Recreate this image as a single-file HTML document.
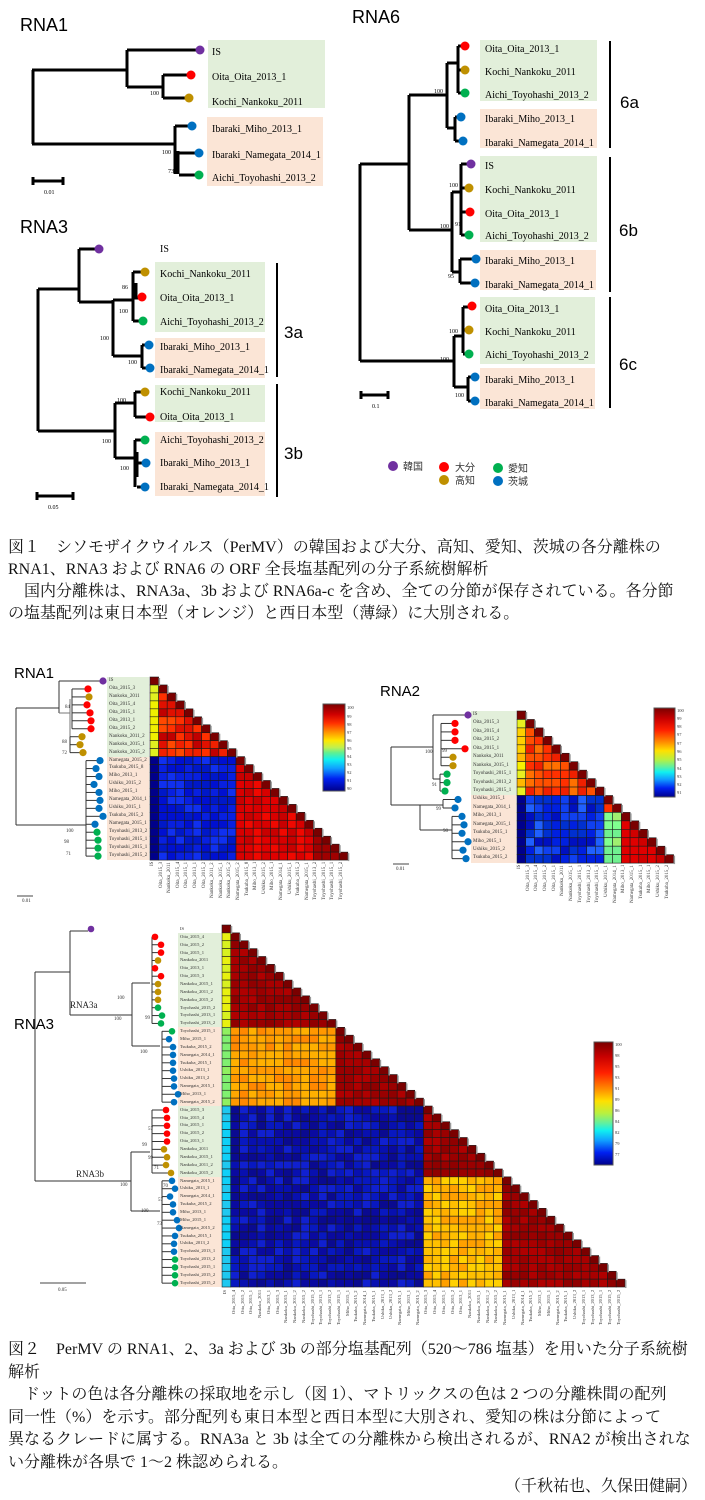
<!DOCTYPE html>
<html><head><meta charset="utf-8">
<style>
html,body{margin:0;padding:0;background:#fff;}
body{width:705px;height:1500px;position:relative;overflow:hidden;font-family:"Liberation Serif","Noto Serif CJK SC",serif;}
svg{position:absolute;left:0;top:0;}
.cap{position:absolute;left:8px;font-size:16px;letter-spacing:0px;line-height:22px;white-space:nowrap;color:#111;}
.rl{position:absolute;display:flex;flex-direction:column;font-size:5px;color:#333;white-space:nowrap;}
.rl div{overflow:visible;}
.cl{position:absolute;display:flex;flex-direction:row;font-size:5px;color:#333;}
.cl div{writing-mode:vertical-rl;transform:rotate(180deg);text-align:end;white-space:nowrap;overflow:hidden;}
</style></head><body>
<svg id="g" width="705" height="1500" viewBox="0 0 705 1500" font-family="Liberation Serif, serif">
<!-- ===== FIG1 RNA1 ===== -->
<text x="20" y="31" font-family="Liberation Sans, sans-serif" font-size="18">RNA1</text>
<rect x="208" y="40" width="117" height="68" fill="#e2efda"/>
<rect x="207" y="117" width="116" height="69" fill="#fbe5d6"/>
<g stroke="#000" stroke-width="3" fill="none">
<path d="M33 70V144M32 70H127M127 50V87M127 50H200M127 87H163M163 75V98M163 75H191M163 98H189M32 144H175M175 126V174M175 126H192M178 151V174M178 153H199M179 175H199"/>
<path d="M33 181H63M33 177V185M63 177V185"/>
</g>
<g>
<circle cx="200" cy="50" r="4.5" fill="#7030a0"/><circle cx="191" cy="75" r="4.5" fill="#ff0000"/><circle cx="189" cy="98" r="4.5" fill="#bf9000"/>
<circle cx="192" cy="126" r="4.5" fill="#0070c0"/><circle cx="199" cy="153" r="4.5" fill="#0070c0"/><circle cx="199" cy="175" r="4.5" fill="#00b050"/>
</g>
<g font-size="10">
<text x="212" y="55">IS</text><text x="212" y="80">Oita_Oita_2013_1</text><text x="212" y="105">Kochi_Nankoku_2011</text>
<text x="212" y="132">Ibaraki_Miho_2013_1</text><text x="212" y="158">Ibaraki_Namegata_2014_1</text><text x="212" y="181">Aichi_Toyohashi_2013_2</text>
</g>
<g font-size="6"><text x="150" y="95">100</text><text x="162" y="154">100</text><text x="168" y="173">73</text><text x="44" y="194">0.01</text></g>
<!-- ===== FIG1 RNA3 ===== -->
<text x="20" y="233" font-family="Liberation Sans, sans-serif" font-size="18">RNA3</text>
<rect x="155" y="262" width="110" height="70" fill="#e2efda"/>
<rect x="155" y="338" width="110" height="40" fill="#fbe5d6"/>
<rect x="155" y="385" width="110" height="37" fill="#e2efda"/>
<rect x="155" y="432" width="110" height="64" fill="#fbe5d6"/>
<g stroke="#000" stroke-width="3" fill="none">
<path d="M38 289V431M38 289H79M79 249V302M79 249H99M79 302H113M113 300V356M113 300H133M133 272V321M133 272H145M136 283V298H142M133 321H143M113 356H142M142 345V368M142 345H149M142 368H150"/>
<path d="M38 431H115M115 403V458M115 403H135M135 392V417M135 392H145M135 417H150M115 458H135M135 440V487M135 440H145M137 452V477M137 463H146M137 487H145"/>
<path d="M37 496H73M37 492V500M73 492V500"/>
</g>
<g>
<circle cx="99" cy="249" r="4.5" fill="#7030a0"/><circle cx="145" cy="272" r="4.5" fill="#bf9000"/><circle cx="142" cy="297" r="4.5" fill="#ff0000"/><circle cx="143" cy="321" r="4.5" fill="#00b050"/>
<circle cx="149" cy="345" r="4.5" fill="#0070c0"/><circle cx="150" cy="368" r="4.5" fill="#0070c0"/>
<circle cx="145" cy="392" r="4.5" fill="#bf9000"/><circle cx="150" cy="417" r="4.5" fill="#ff0000"/><circle cx="145" cy="440" r="4.5" fill="#00b050"/>
<circle cx="146" cy="463" r="4.5" fill="#0070c0"/><circle cx="145" cy="487" r="4.5" fill="#0070c0"/>
</g>
<g stroke="#000" stroke-width="2"><path d="M277 263V377M277 384V497"/></g>
<g font-size="10">
<text x="160" y="252">IS</text><text x="160" y="277">Kochi_Nankoku_2011</text><text x="160" y="301">Oita_Oita_2013_1</text><text x="160" y="325">Aichi_Toyohashi_2013_2</text>
<text x="160" y="350">Ibaraki_Miho_2013_1</text><text x="160" y="373">Ibaraki_Namegata_2014_1</text>
<text x="160" y="395">Kochi_Nankoku_2011</text><text x="160" y="420">Oita_Oita_2013_1</text><text x="160" y="443">Aichi_Toyohashi_2013_2</text>
<text x="160" y="466">Ibaraki_Miho_2013_1</text><text x="160" y="490">Ibaraki_Namegata_2014_1</text>
</g>
<g font-family="Liberation Sans, sans-serif" font-size="17"><text x="284" y="338">3a</text><text x="284" y="459">3b</text></g>
<g font-size="6"><text x="122" y="289">86</text><text x="119" y="313">100</text><text x="100" y="340">100</text><text x="128" y="364">100</text><text x="117" y="402">100</text><text x="102" y="443">100</text><text x="120" y="470">100</text><text x="48" y="509">0.05</text></g>
<!-- ===== FIG1 RNA6 ===== -->
<text x="352" y="23" font-family="Liberation Sans, sans-serif" font-size="18">RNA6</text>
<rect x="480" y="40" width="117" height="61" fill="#e2efda"/>
<rect x="480" y="109" width="117" height="39" fill="#fbe5d6"/>
<rect x="480" y="156" width="117" height="86" fill="#e2efda"/>
<rect x="480" y="250" width="116" height="40" fill="#fbe5d6"/>
<rect x="480" y="297" width="115" height="67" fill="#e2efda"/>
<rect x="480" y="368" width="115" height="41" fill="#fbe5d6"/>
<g stroke="#000" stroke-width="3" fill="none">
<path d="M360 164V361M360 164H409M409 95V230M409 95H447M447 63V128M447 63H458M458 46V93M458 46H465M458 70H465M458 93H465M447 128H455M455 117V141M455 117H461M455 141H463"/>
<path d="M409 230H452M452 192V272M452 192H461M461 164V235M461 164H471M461 188H469M461 212H470M461 235H469M452 272H460M460 259V283M460 259H476M460 283H475"/>
<path d="M360 361H454M454 336V387M454 336H463M463 307V353M463 307H472M463 330H469M463 354H469M454 387H468M468 377V401M468 377H475M468 401H475"/>
<path d="M361 395H388M361 391V399M388 391V399"/>
</g>
<g>
<circle cx="465" cy="46" r="4.5" fill="#ff0000"/><circle cx="465" cy="70" r="4.5" fill="#bf9000"/><circle cx="465" cy="93" r="4.5" fill="#00b050"/>
<circle cx="461" cy="117" r="4.5" fill="#0070c0"/><circle cx="463" cy="141" r="4.5" fill="#0070c0"/>
<circle cx="471" cy="164" r="4.5" fill="#7030a0"/><circle cx="469" cy="188" r="4.5" fill="#bf9000"/><circle cx="470" cy="212" r="4.5" fill="#ff0000"/><circle cx="469" cy="235" r="4.5" fill="#00b050"/>
<circle cx="476" cy="259" r="4.5" fill="#0070c0"/><circle cx="475" cy="283" r="4.5" fill="#0070c0"/>
<circle cx="472" cy="306" r="4.5" fill="#ff0000"/><circle cx="469" cy="330" r="4.5" fill="#bf9000"/><circle cx="469" cy="354" r="4.5" fill="#00b050"/>
<circle cx="475" cy="377" r="4.5" fill="#0070c0"/><circle cx="475" cy="401" r="4.5" fill="#0070c0"/>
</g>
<g stroke="#000" stroke-width="2"><path d="M610 41V148M610 157V292M610 297V408"/></g>
<g font-size="10">
<text x="485" y="52">Oita_Oita_2013_1</text><text x="485" y="75">Kochi_Nankoku_2011</text><text x="485" y="98">Aichi_Toyohashi_2013_2</text>
<text x="485" y="122">Ibaraki_Miho_2013_1</text><text x="485" y="146">Ibaraki_Namegata_2014_1</text>
<text x="485" y="169">IS</text><text x="485" y="193">Kochi_Nankoku_2011</text><text x="485" y="217">Oita_Oita_2013_1</text><text x="485" y="239">Aichi_Toyohashi_2013_2</text>
<text x="485" y="264">Ibaraki_Miho_2013_1</text><text x="485" y="288">Ibaraki_Namegata_2014_1</text>
<text x="485" y="312">Oita_Oita_2013_1</text><text x="485" y="335">Kochi_Nankoku_2011</text><text x="485" y="358">Aichi_Toyohashi_2013_2</text>
<text x="485" y="383">Ibaraki_Miho_2013_1</text><text x="485" y="406">Ibaraki_Namegata_2014_1</text>
</g>
<g font-family="Liberation Sans, sans-serif" font-size="17"><text x="620" y="108">6a</text><text x="619" y="236">6b</text><text x="619" y="370">6c</text></g>
<g font-size="6"><text x="434" y="93">100</text><text x="449" y="187">100</text><text x="440" y="228">100</text><text x="455" y="226">91</text><text x="448" y="278">95</text><text x="449" y="333">100</text><text x="440" y="361">100</text><text x="455" y="397">100</text><text x="372" y="408">0.1</text></g>
<g font-size="10" font-family="Noto Sans CJK JP, sans-serif" fill="#333">
<circle cx="393" cy="466" r="5" fill="#7030a0"/><text x="403" y="470">韓国</text>
<circle cx="444" cy="467" r="5" fill="#ff0000"/><text x="455" y="471">大分</text>
<circle cx="444" cy="480" r="5" fill="#bf9000"/><text x="455" y="484">高知</text>
<circle cx="498" cy="468" r="5" fill="#00b050"/><text x="508" y="472">愛知</text>
<circle cx="498" cy="481" r="5" fill="#0070c0"/><text x="508" y="485">茨城</text>
</g>
<!-- FIG2 titles -->
<g font-family="Liberation Sans, sans-serif" font-size="15"><text x="14" y="678">RNA1</text><text x="380" y="696">RNA2</text><text x="14" y="1029">RNA3</text></g>
<!-- boxes fig2 -->
<rect x="107" y="677" width="42" height="80" fill="#e2efda"/>
<rect x="107" y="757" width="42" height="103" fill="#fbe5d6"/>
<rect x="471" y="711" width="45" height="84" fill="#e2efda"/>
<rect x="471" y="795" width="45" height="68" fill="#fbe5d6"/>
<rect x="178" y="933" width="43" height="94" fill="#e2efda"/>
<rect x="178" y="1027" width="43" height="79" fill="#fbe5d6"/>
<rect x="178" y="1106" width="43" height="71" fill="#e2efda"/>
<rect x="178" y="1177" width="43" height="110" fill="#fbe5d6"/>
<g id="trees"></g>
<g id="mats"></g>
<g font-size="5" fill="#333">
<text x="62" y="743">88</text><text x="62" y="754">72</text><text x="65" y="708">84</text><text x="66" y="832">100</text><text x="64" y="843">98</text><text x="66" y="855">71</text><text x="22" y="902">0.01</text>
<text x="425" y="753">100</text><text x="442" y="752">99</text><text x="432" y="786">91</text><text x="436" y="810">99</text><text x="443" y="832">98</text><text x="396" y="870">0.01</text>
<text x="117" y="999">100</text><text x="114" y="1020">100</text><text x="140" y="1053">100</text><text x="145" y="1019">99</text><text x="120" y="1186">100</text><text x="148" y="1159">99</text><text x="154" y="1169">71</text><text x="142" y="1146">99</text><text x="148" y="1130">57</text><text x="163" y="1187">70</text><text x="158" y="1201">57</text><text x="141" y="1212">100</text><text x="157" y="1225">73</text><text x="58" y="1291">0.05</text>
</g>
<g font-family="Liberation Serif, serif" font-size="9" fill="#222"><text x="70" y="1008">RNA3a</text><text x="76" y="1177">RNA3b</text></g>
<g stroke="#444" stroke-width="1"><path d="M17 896H33M40 1283H86M393 864H409"/></g>
<!-- colorbars -->
<defs>
<linearGradient id="cb" x1="0" y1="0" x2="0" y2="1">
<stop offset="0" stop-color="#7a0000"/><stop offset="0.12" stop-color="#c80000"/><stop offset="0.25" stop-color="#ff2000"/><stop offset="0.38" stop-color="#ff8a00"/><stop offset="0.48" stop-color="#ffe000"/><stop offset="0.58" stop-color="#b8f040"/><stop offset="0.66" stop-color="#60f0a0"/><stop offset="0.72" stop-color="#10f0f0"/><stop offset="0.8" stop-color="#10a0ff"/><stop offset="0.9" stop-color="#0020f0"/><stop offset="1" stop-color="#00008a"/>
</linearGradient>
<linearGradient id="cb1" x1="0" y1="0" x2="0" y2="1">
<stop offset="0" stop-color="#7a0000"/><stop offset="0.12" stop-color="#d00000"/><stop offset="0.22" stop-color="#ff3000"/><stop offset="0.32" stop-color="#ff9000"/><stop offset="0.42" stop-color="#ffe800"/><stop offset="0.5" stop-color="#c0f050"/><stop offset="0.56" stop-color="#60f090"/><stop offset="0.64" stop-color="#10f0f0"/><stop offset="0.74" stop-color="#10a0ff"/><stop offset="0.86" stop-color="#0020f0"/><stop offset="1" stop-color="#00008a"/>
</linearGradient>
</defs>
<rect x="323" y="704" width="22" height="87" fill="url(#cb1)" stroke="#555" stroke-width="1"/>
<rect x="654" y="708" width="21" height="89" fill="url(#cb)" stroke="#555" stroke-width="1"/>
<rect x="594" y="1042" width="19" height="123" fill="url(#cb)" stroke="#555" stroke-width="1"/>
<g font-size="4.5" fill="#333">
<text x="347" y="709">100</text><text x="347" y="718">99</text><text x="347" y="726">98</text><text x="347" y="734">97</text><text x="347" y="742">96</text><text x="347" y="750">95</text><text x="347" y="758">94</text><text x="347" y="766">93</text><text x="347" y="774">92</text><text x="347" y="782">91</text><text x="347" y="790">90</text>
<text x="677" y="712">100</text><text x="677" y="720">99</text><text x="677" y="728">98</text><text x="677" y="736">97</text><text x="677" y="745">97</text><text x="677" y="753">96</text><text x="677" y="761">95</text><text x="677" y="770">94</text><text x="677" y="778">93</text><text x="677" y="786">92</text><text x="677" y="794">91</text>
<text x="615" y="1046">100</text><text x="615" y="1057">98</text><text x="615" y="1068">95</text><text x="615" y="1079">93</text><text x="615" y="1090">91</text><text x="615" y="1101">89</text><text x="615" y="1112">86</text><text x="615" y="1123">84</text><text x="615" y="1134">82</text><text x="615" y="1145">79</text><text x="615" y="1156">77</text>
</g>
</svg>

<!-- Row labels fig2 -->
<div class="rl" style="left:109px;top:677px;">
<div style="height:7.96px;line-height:7.96px">IS</div><div style="height:7.96px;line-height:7.96px">Oita_2015_3</div><div style="height:7.96px;line-height:7.96px">Nankoku_2011</div><div style="height:7.96px;line-height:7.96px">Oita_2015_4</div><div style="height:7.96px;line-height:7.96px">Oita_2015_1</div><div style="height:7.96px;line-height:7.96px">Oita_2013_1</div><div style="height:7.96px;line-height:7.96px">Oita_2015_2</div><div style="height:7.96px;line-height:7.96px">Nankoku_2011_2</div><div style="height:7.96px;line-height:7.96px">Nankoku_2015_1</div><div style="height:7.96px;line-height:7.96px">Nankoku_2015_2</div><div style="height:7.96px;line-height:7.96px">Namegata_2015_2</div><div style="height:7.96px;line-height:7.96px">Tsukuba_2015_8</div><div style="height:7.96px;line-height:7.96px">Miho_2013_1</div><div style="height:7.96px;line-height:7.96px">Ushiku_2015_2</div><div style="height:7.96px;line-height:7.96px">Miho_2015_1</div><div style="height:7.96px;line-height:7.96px">Namegata_2014_1</div><div style="height:7.96px;line-height:7.96px">Ushiku_2015_1</div><div style="height:7.96px;line-height:7.96px">Tsukuba_2015_2</div><div style="height:7.96px;line-height:7.96px">Namegata_2015_1</div><div style="height:7.96px;line-height:7.96px">Toyohashi_2013_2</div><div style="height:7.96px;line-height:7.96px">Toyohashi_2015_1</div><div style="height:7.96px;line-height:7.96px">Toyohashi_2015_1</div><div style="height:7.96px;line-height:7.96px">Toyohashi_2015_2</div>
</div>
<div class="cl" style="left:150px;top:862px;height:46px;">
<div style="width:8.6px;height:46px">IS</div><div style="width:8.6px;height:46px">Oita_2015_3</div><div style="width:8.6px;height:46px">Nankoku_2011</div><div style="width:8.6px;height:46px">Oita_2015_4</div><div style="width:8.6px;height:46px">Oita_2015_1</div><div style="width:8.6px;height:46px">Oita_2013_1</div><div style="width:8.6px;height:46px">Oita_2015_2</div><div style="width:8.6px;height:46px">Nankoku_2011_2</div><div style="width:8.6px;height:46px">Nankoku_2015_1</div><div style="width:8.6px;height:46px">Nankoku_2015_2</div><div style="width:8.6px;height:46px">Namegata_2015_2</div><div style="width:8.6px;height:46px">Tsukuba_2015_8</div><div style="width:8.6px;height:46px">Miho_2013_1</div><div style="width:8.6px;height:46px">Ushiku_2015_2</div><div style="width:8.6px;height:46px">Miho_2015_1</div><div style="width:8.6px;height:46px">Namegata_2014_1</div><div style="width:8.6px;height:46px">Ushiku_2015_1</div><div style="width:8.6px;height:46px">Tsukuba_2015_2</div><div style="width:8.6px;height:46px">Namegata_2015_1</div><div style="width:8.6px;height:46px">Toyohashi_2013_2</div><div style="width:8.6px;height:46px">Toyohashi_2015_1</div><div style="width:8.6px;height:46px">Toyohashi_2015_1</div><div style="width:8.6px;height:46px">Toyohashi_2015_2</div>
</div>

<div class="rl" style="left:473px;top:711px;">
<div style="height:8.45px;line-height:8.45px">IS</div><div style="height:8.45px;line-height:8.45px">Oita_2015_3</div><div style="height:8.45px;line-height:8.45px">Oita_2015_4</div><div style="height:8.45px;line-height:8.45px">Oita_2015_2</div><div style="height:8.45px;line-height:8.45px">Oita_2015_1</div><div style="height:8.45px;line-height:8.45px">Nankoku_2011</div><div style="height:8.45px;line-height:8.45px">Nankoku_2015_1</div><div style="height:8.45px;line-height:8.45px">Toyohashi_2015_1</div><div style="height:8.45px;line-height:8.45px">Toyohashi_2013_2</div><div style="height:8.45px;line-height:8.45px">Toyohashi_2015_1</div><div style="height:8.45px;line-height:8.45px">Ushiku_2015_1</div><div style="height:8.45px;line-height:8.45px">Namegata_2014_1</div><div style="height:8.45px;line-height:8.45px">Miho_2013_1</div><div style="height:8.45px;line-height:8.45px">Namegata_2015_1</div><div style="height:8.45px;line-height:8.45px">Tsukuba_2015_1</div><div style="height:8.45px;line-height:8.45px">Miho_2015_1</div><div style="height:8.45px;line-height:8.45px">Ushiku_2015_2</div><div style="height:8.45px;line-height:8.45px">Tsukuba_2015_2</div>
</div>
<div class="cl" style="left:517px;top:865px;height:40px;">
<div style="width:8.7px;height:40px">IS</div><div style="width:8.7px;height:40px">Oita_2015_3</div><div style="width:8.7px;height:40px">Oita_2015_4</div><div style="width:8.7px;height:40px">Oita_2015_2</div><div style="width:8.7px;height:40px">Oita_2015_1</div><div style="width:8.7px;height:40px">Nankoku_2011</div><div style="width:8.7px;height:40px">Nankoku_2015_1</div><div style="width:8.7px;height:40px">Toyohashi_2015_1</div><div style="width:8.7px;height:40px">Toyohashi_2013_2</div><div style="width:8.7px;height:40px">Toyohashi_2015_1</div><div style="width:8.7px;height:40px">Ushiku_2015_1</div><div style="width:8.7px;height:40px">Namegata_2014_1</div><div style="width:8.7px;height:40px">Miho_2013_1</div><div style="width:8.7px;height:40px">Namegata_2015_1</div><div style="width:8.7px;height:40px">Tsukuba_2015_1</div><div style="width:8.7px;height:40px">Miho_2015_1</div><div style="width:8.7px;height:40px">Ushiku_2015_2</div><div style="width:8.7px;height:40px">Tsukuba_2015_2</div>
</div>

<div class="rl" style="left:180px;top:925px;font-size:4.6px;">
<div style="height:7.87px;line-height:7.87px">IS</div><div style="height:7.87px;line-height:7.87px">Oita_2015_4</div><div style="height:7.87px;line-height:7.87px">Oita_2015_2</div><div style="height:7.87px;line-height:7.87px">Oita_2015_1</div><div style="height:7.87px;line-height:7.87px">Nankoku_2011</div><div style="height:7.87px;line-height:7.87px">Oita_2013_1</div><div style="height:7.87px;line-height:7.87px">Oita_2015_3</div><div style="height:7.87px;line-height:7.87px">Nankoku_2015_1</div><div style="height:7.87px;line-height:7.87px">Nankoku_2011_2</div><div style="height:7.87px;line-height:7.87px">Nankoku_2015_2</div><div style="height:7.87px;line-height:7.87px">Toyohashi_2015_2</div><div style="height:7.87px;line-height:7.87px">Toyohashi_2013_1</div><div style="height:7.87px;line-height:7.87px">Toyohashi_2013_2</div><div style="height:7.87px;line-height:7.87px">Toyohashi_2015_1</div><div style="height:7.87px;line-height:7.87px">Miho_2015_1</div><div style="height:7.87px;line-height:7.87px">Tsukuba_2015_2</div><div style="height:7.87px;line-height:7.87px">Namegata_2014_1</div><div style="height:7.87px;line-height:7.87px">Tsukuba_2015_1</div><div style="height:7.87px;line-height:7.87px">Ushiku_2013_1</div><div style="height:7.87px;line-height:7.87px">Ushiku_2013_2</div><div style="height:7.87px;line-height:7.87px">Namegata_2015_1</div><div style="height:7.87px;line-height:7.87px">Miho_2013_1</div><div style="height:7.87px;line-height:7.87px">Namegata_2015_2</div><div style="height:7.87px;line-height:7.87px">Oita_2015_3</div><div style="height:7.87px;line-height:7.87px">Oita_2015_4</div><div style="height:7.87px;line-height:7.87px">Oita_2015_1</div><div style="height:7.87px;line-height:7.87px">Oita_2015_2</div><div style="height:7.87px;line-height:7.87px">Oita_2013_1</div><div style="height:7.87px;line-height:7.87px">Nankoku_2011</div><div style="height:7.87px;line-height:7.87px">Nankoku_2015_1</div><div style="height:7.87px;line-height:7.87px">Nankoku_2011_2</div><div style="height:7.87px;line-height:7.87px">Nankoku_2015_2</div><div style="height:7.87px;line-height:7.87px">Namegata_2015_1</div><div style="height:7.87px;line-height:7.87px">Ushiku_2013_1</div><div style="height:7.87px;line-height:7.87px">Namegata_2014_1</div><div style="height:7.87px;line-height:7.87px">Tsukuba_2015_2</div><div style="height:7.87px;line-height:7.87px">Miho_2013_1</div><div style="height:7.87px;line-height:7.87px">Miho_2015_1</div><div style="height:7.87px;line-height:7.87px">Namegata_2015_2</div><div style="height:7.87px;line-height:7.87px">Tsukuba_2015_1</div><div style="height:7.87px;line-height:7.87px">Ushiku_2013_2</div><div style="height:7.87px;line-height:7.87px">Toyohashi_2013_1</div><div style="height:7.87px;line-height:7.87px">Toyohashi_2013_2</div><div style="height:7.87px;line-height:7.87px">Toyohashi_2015_1</div><div style="height:7.87px;line-height:7.87px">Toyohashi_2015_2</div><div style="height:7.87px;line-height:7.87px">Toyohashi_2015_2</div>
</div>
<div class="cl" style="left:222px;top:1290px;height:48px;font-size:4.6px;">
<div style="width:8.76px;height:48px">IS</div><div style="width:8.76px;height:48px">Oita_2015_4</div><div style="width:8.76px;height:48px">Oita_2015_2</div><div style="width:8.76px;height:48px">Oita_2015_1</div><div style="width:8.76px;height:48px">Nankoku_2011</div><div style="width:8.76px;height:48px">Oita_2013_1</div><div style="width:8.76px;height:48px">Oita_2015_3</div><div style="width:8.76px;height:48px">Nankoku_2015_1</div><div style="width:8.76px;height:48px">Nankoku_2011_2</div><div style="width:8.76px;height:48px">Nankoku_2015_2</div><div style="width:8.76px;height:48px">Toyohashi_2015_2</div><div style="width:8.76px;height:48px">Toyohashi_2013_1</div><div style="width:8.76px;height:48px">Toyohashi_2013_2</div><div style="width:8.76px;height:48px">Toyohashi_2015_1</div><div style="width:8.76px;height:48px">Miho_2015_1</div><div style="width:8.76px;height:48px">Tsukuba_2015_2</div><div style="width:8.76px;height:48px">Namegata_2014_1</div><div style="width:8.76px;height:48px">Tsukuba_2015_1</div><div style="width:8.76px;height:48px">Ushiku_2013_1</div><div style="width:8.76px;height:48px">Ushiku_2013_2</div><div style="width:8.76px;height:48px">Namegata_2015_1</div><div style="width:8.76px;height:48px">Miho_2013_1</div><div style="width:8.76px;height:48px">Namegata_2015_2</div><div style="width:8.76px;height:48px">Oita_2015_3</div><div style="width:8.76px;height:48px">Oita_2015_4</div><div style="width:8.76px;height:48px">Oita_2015_1</div><div style="width:8.76px;height:48px">Oita_2015_2</div><div style="width:8.76px;height:48px">Oita_2013_1</div><div style="width:8.76px;height:48px">Nankoku_2011</div><div style="width:8.76px;height:48px">Nankoku_2015_1</div><div style="width:8.76px;height:48px">Nankoku_2011_2</div><div style="width:8.76px;height:48px">Nankoku_2015_2</div><div style="width:8.76px;height:48px">Namegata_2015_1</div><div style="width:8.76px;height:48px">Ushiku_2013_1</div><div style="width:8.76px;height:48px">Namegata_2014_1</div><div style="width:8.76px;height:48px">Tsukuba_2015_2</div><div style="width:8.76px;height:48px">Miho_2013_1</div><div style="width:8.76px;height:48px">Miho_2015_1</div><div style="width:8.76px;height:48px">Namegata_2015_2</div><div style="width:8.76px;height:48px">Tsukuba_2015_1</div><div style="width:8.76px;height:48px">Ushiku_2013_2</div><div style="width:8.76px;height:48px">Toyohashi_2013_1</div><div style="width:8.76px;height:48px">Toyohashi_2013_2</div><div style="width:8.76px;height:48px">Toyohashi_2015_1</div><div style="width:8.76px;height:48px">Toyohashi_2015_2</div><div style="width:8.76px;height:48px">Toyohashi_2015_2</div>
</div>

<div class="cap" style="top:537px;">図１　シソモザイクウイルス（PerMV）の韓国および大分、高知、愛知、茨城の各分離株の<br>RNA1、RNA3 および RNA6 の ORF 全長塩基配列の分子系統樹解析<br>　国内分離株は、RNA3a、3b および RNA6a-c を含め、全ての分節が保存されている。各分節<br>の塩基配列は東日本型（オレンジ）と西日本型（薄緑）に大別される。</div>

<div class="cap" style="top:1339px;line-height:22.5px;">図２　PerMV の RNA1、2、3a および 3b の部分塩基配列（520～786 塩基）を用いた分子系統樹<br>解析<br>　ドットの色は各分離株の採取地を示し（図 1）、マトリックスの色は 2 つの分離株間の配列<br>同一性（%）を示す。部分配列も東日本型と西日本型に大別され、愛知の株は分節によって<br>異なるクレードに属する。RNA3a と 3b は全ての分離株から検出されるが、RNA2 が検出されな<br>い分離株が各県で 1～2 株認められる。</div>
<div class="cap" style="top:1476px;left:auto;right:8px;">（千秋祐也、久保田健嗣）</div>

<script>
var NS='http://www.w3.org/2000/svg';
var T=document.getElementById('trees'),M=document.getElementById('mats');
function el(p,n,a){var e=document.createElementNS(NS,n);for(var k in a)e.setAttribute(k,a[k]);p.appendChild(e);return e;}
function ln(d,w,c){el(T,'path',{d:d,stroke:c||'#333','stroke-width':w||1,fill:'none'});}
var P='#7030a0',R='#ff0000',Y='#bf9000',G='#00b050',B='#0070c0';
function dot(x,y,c,r){el(T,'circle',{cx:x,cy:y,r:r||3.4,fill:c});}
function clade(xn,rows,xs,cs,yf,r){var y0=yf(rows[0]),y1=yf(rows[rows.length-1]);ln('M'+xn+' '+y0+'V'+y1);for(var i=0;i<rows.length;i++){var y=yf(rows[i]);ln('M'+xn+' '+y+'H'+(xs[i]-2));dot(xs[i],y,cs[i],r);}}
var y1=function(i){return 681+7.96*i;};
ln('M16 708V825M16 708H59M59 681V713M59 681H100M16 825H86');
ln('M59 713H70M70 699V748',1,'#777');
clade(72,[1,2,3,4,5,6],[88,89,87,90,91,91],[R,Y,R,R,R,R],y1,3.6);
clade(70,[7,8,9],[82,80,83],[Y,Y,Y],y1,3.6);
dot(103,y1(0),P,3.6);
clade(86,[10,11,12,13,14,15,16,17,18,19,20,21,22],[100,96,99,94,99,100,99,103,95,97,98,98,98],[B,B,B,B,B,B,B,B,B,G,G,G,G],y1,3.6);
var y2=function(i){return 715+8.45*i;};
ln('M391 747V805M391 747H433M433 715V779M433 715H465M433 779H440M391 805H420M420 805V830M420 805H443M443 799.7V808M420 830H452');
clade(441,[1,2,3,4,5,6],[455,455,455,465,453,453],[R,R,R,R,Y,Y],y2,3.6);
clade(440,[7,8,9],[447,447,445],[G,G,G],y2,3.6);
dot(468,y2(0),P,3.6);
dot(458,y2(10),B,3.6);dot(455,y2(11),B,3.6);ln('M443 '+y2(10)+'H455M443 '+y2(11)+'H452');
clade(452,[12,13,14,15,16,17],[462,464,462,468,463,466],[B,B,B,B,B,B],y2,3.6);
var y3=function(i){return 929+7.87*i;};
ln('M35 972V1181M35 972H70M70 931V1015M70 931H88M70 1015H132M132 983V1046M132 983H150M132 1046H160');
dot(91,y3(0),P,3.3);
clade(152,[1,2,3,4,5,6,7,8,9,10,11,12],[155,161,161,158,155,161,158,158,158,158,162,161],[R,R,R,Y,R,R,Y,Y,Y,G,G,G],y3,3.3);
clade(162,[13,14,15,16,17,18,19,20,21,22],[172,169,173,173,173,173,174,174,178,174],[G,B,B,B,B,B,B,B,B,B],y3,3.3);
ln('M35 1181H131M131 1152V1211M131 1152H150M131 1211H160');
clade(152,[23,24,25,26,27,28,29,30,31],[166,167,167,167,167,164,167,166,171],[R,R,R,R,R,Y,Y,Y,Y],y3,3.3);
clade(162,[32,33,34,35,36,37,38,39,40,41,42,43,44,45],[172,175,170,173,173,177,179,175,174,174,175,175,175,175],[B,B,B,B,B,B,B,B,B,B,G,G,G,G],y3,3.3);

var seed=7;function rnd(){seed=(seed*9301+49297)%233280;return seed/233280;}
function mat(x0,y0,w,h,n,cf){for(var i=0;i<n;i++)for(var j=0;j<=i;j++){el(M,'rect',{x:(x0+j*w).toFixed(2),y:(y0+i*h).toFixed(2),width:w.toFixed(2),height:h.toFixed(2),fill:cf(i,j),stroke:'#1a1a1a','stroke-width':0.6});}
 for(var i=0;i<n;i++){el(M,'rect',{x:(x0+(i+1)*w).toFixed(2),y:(y0+i*h+1).toFixed(2),width:1.5,height:h.toFixed(2),fill:'#999'});}
}
function pick(a){return a[Math.floor(rnd()*a.length)];}
var DR='#7a0000';
function g1(i){return i==0?0:(i<=9?1:2);}
mat(150,677,8.6,7.96,23,function(i,j){if(i==j)return DR;var a=g1(i),b=g1(j);
 if(b==0)return a==1?pick(['#f0f000','#e0f020','#d8f040']):'#00008a';
 if(a==1&&b==1)return pick(['#ff3000','#f02000','#e01000','#ff4800','#c00000']);
 if(a==2&&b==1)return pick(['#0010d0','#0820e0','#0018c8','#1030f0']);
 if(i>=19&&j>=19)return '#a00000';
 return pick(['#e00000','#d80000','#f00800','#c80000']);});
function g2(i){return i==0?0:(i<=9?1:2);}
mat(517,711,8.7,8.45,18,function(i,j){if(i==j)return DR;var a=g2(i),b=g2(j);
 if(b==0)return a==1?pick(['#ffd000','#f8f000','#ffb800','#e8f020']):'#00008c';
 if(a==1&&b==1)return pick(['#ff3000','#ff5000','#f02000','#ff7000']);
 if(a==2&&b==1)return pick(['#0020e0','#1040f0','#0030d0','#2060ff','#0010c0']);
 if(j<=11){if(i<=11)return '#ff3000';return pick(['#70f090','#80ff90','#a0f070']);}
 return pick(['#e00000','#d00000','#c80000']);});
function g3(i){return i==0?0:(i<=12?1:(i<=22?2:(i<=31?3:4)));}
mat(222,925,8.76,7.87,46,function(i,j){if(i==j)return DR;var a=g3(i),b=g3(j);
 if(b==0)return a==1?pick(['#e8f010','#d8f020']):(a==2?pick(['#90f060','#80f070']):pick(['#20c8f0','#10d0f8']));
 if(a==b)return pick(['#9a0000','#a80000','#b00000','#900000']);
 if(a==2&&b==1)return pick(['#ff9800','#ffa800','#ff8800','#ffb000']);
 if(a==4&&b==3)return pick(['#ffb000','#ffc000','#ffa000','#ffd000']);
 return pick(['#0a0aa0','#0810b0','#0818c0','#0a0a90','#1020d0']);});
</script>
</body></html>
